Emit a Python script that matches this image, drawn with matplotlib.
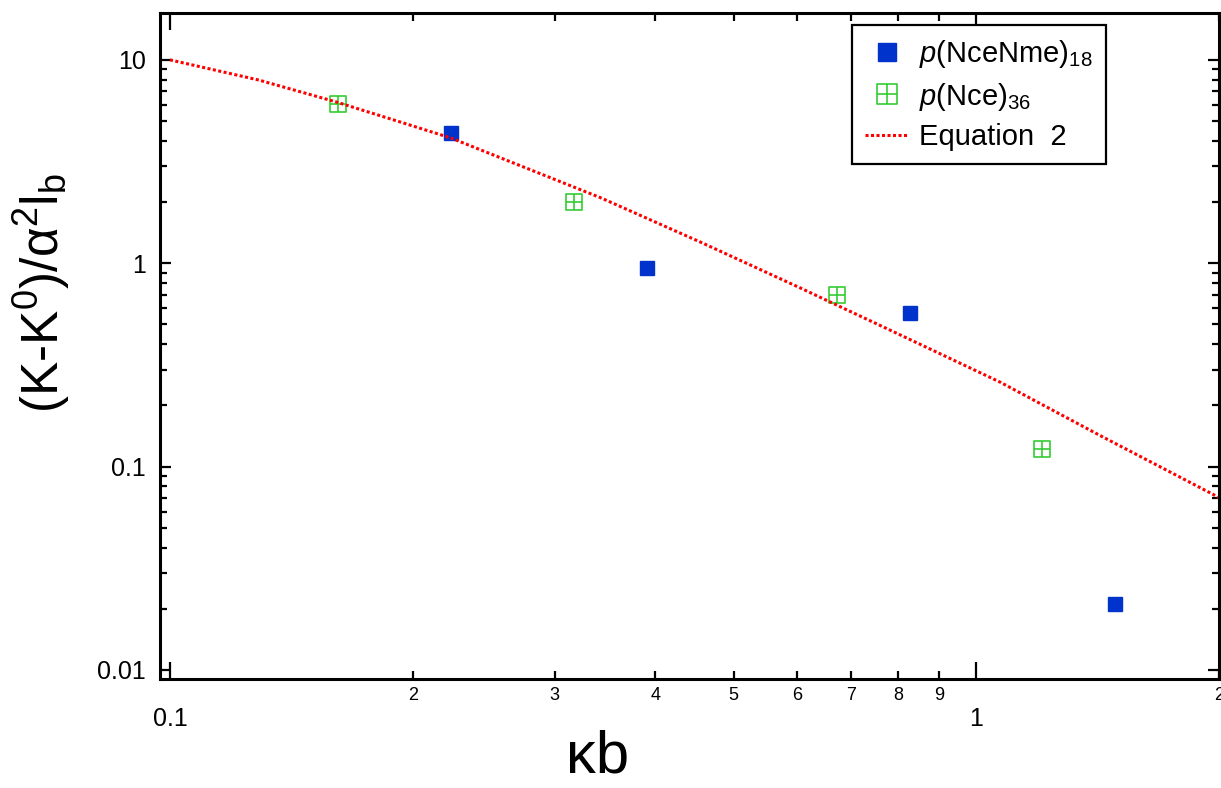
import numpy as np
import matplotlib
matplotlib.use("Agg")
import matplotlib.pyplot as plt
from matplotlib.path import Path
from matplotlib.ticker import FixedLocator, FixedFormatter, LogLocator, NullFormatter

plt.rcParams['font.family'] = ['Liberation Sans', 'DejaVu Sans']
plt.rcParams['mathtext.fontset'] = 'custom'
plt.rcParams['mathtext.rm'] = 'Liberation Sans'
plt.rcParams['mathtext.it'] = 'Liberation Sans:italic'
plt.rcParams['mathtext.default'] = 'regular'

# p(NceNme)18 data
kb_nme = [0.2234, 0.391, 0.828, 1.488]
val_nme = [4.38, 0.95, 0.571, 0.0212]

# p(Nce)36 data
kb_nce = [0.1617, 0.3167, 0.672, 1.208]
val_nce = [6.08, 2.0, 0.70, 0.1226]

# Equation 2 curve
kb_eq = [0.1, 0.129, 0.161, 0.193, 0.223, 0.257, 0.342, 0.455, 0.605, 0.805, 1.071, 1.425, 2.0]
val_eq = [10, 7.95, 6.2, 4.95, 4.13, 3.30, 2.10, 1.27, 0.756, 0.444, 0.26, 0.142, 0.0705]

x_major = [0.1, 1]
x_major_labels = ['0.1', '1']
x_minor = [0.2, 0.3, 0.4, 0.5, 0.6, 0.7, 0.8, 0.9, 2.0]
x_minor_labels = ['2', '3', '4', '5', '6', '7', '8', '9', '2']
y_major = [0.01, 0.1, 1, 10]
y_major_labels = ['0.01', '0.1', '1', '10']

# square with a cross inside
box_plus = Path([(-1, -1), (1, -1), (1, 1), (-1, 1), (-1, -1),
                 (0, -1), (0, 1), (-1, 0), (1, 0)],
                [Path.MOVETO, Path.LINETO, Path.LINETO, Path.LINETO, Path.CLOSEPOLY,
                 Path.MOVETO, Path.LINETO, Path.MOVETO, Path.LINETO])

fig = plt.figure(figsize=(12.21, 7.88), dpi=100)
ax = fig.add_axes([160 / 1221, 1 - 679 / 788, (1219 - 160) / 1221, (679 - 13) / 788])

ax.plot(kb_nme, val_nme, linestyle='none', marker='s', markersize=10,
        color='#0033cc', markeredgecolor='#0033cc', label='$\\mathit{p}$(NceNme)$_{18}$')
ax.plot(kb_nce, val_nce, linestyle='none', marker=box_plus, markersize=11,
        markerfacecolor='none', markeredgecolor='#33cc33', markeredgewidth=1.2,
        label='$\\mathit{p}$(Nce)$_{36}$')
ax.plot(kb_eq, val_eq, linestyle=(0, (1, 0.8)), color='red', linewidth=2.2,
        label='Equation  2')

ax.set_xscale('log')
ax.set_yscale('log')
ax.set_xlim(0.0972, 2.0)
ax.set_ylim(0.00903, 17.0)

ax.xaxis.set_major_locator(FixedLocator(x_major))
ax.xaxis.set_major_formatter(FixedFormatter(x_major_labels))
ax.xaxis.set_minor_locator(FixedLocator(x_minor))
ax.xaxis.set_minor_formatter(FixedFormatter(x_minor_labels))
ax.yaxis.set_major_locator(FixedLocator(y_major))
ax.yaxis.set_major_formatter(FixedFormatter(y_major_labels))
ax.yaxis.set_minor_locator(LogLocator(base=10, subs=np.arange(2, 10)))
ax.yaxis.set_minor_formatter(NullFormatter())

ax.tick_params(which='both', direction='in', top=True, right=True, width=1.6, color='black')
ax.tick_params(axis='x', which='major', length=12, labelsize=18, pad=20)
ax.tick_params(axis='x', which='minor', length=6, labelsize=13, pad=6)
ax.tick_params(axis='y', which='major', length=8, labelsize=18, pad=10)
ax.tick_params(axis='y', which='minor', length=5)

for s in ax.spines.values():
    s.set_linewidth(2.2)

ax.set_xlabel('κb', fontsize=43)
ax.xaxis.set_label_coords(0.413, -0.076)
ax.set_ylabel('(K-K$^{0}$)/α$^{2}$l$_{b}$', fontsize=37)
ax.yaxis.set_label_coords(-0.083, 0.58)

leg = ax.legend(loc='upper right', bbox_to_anchor=(0.893, 0.982), fontsize=21,
                frameon=True, fancybox=False, framealpha=1, edgecolor='black',
                handlelength=1.5, handletextpad=0.35, labelspacing=0.36,
                borderpad=0.45, borderaxespad=0, markerscale=1.3)
leg.get_frame().set_linewidth(1.6)

fig.savefig('out.png', dpi=100)
